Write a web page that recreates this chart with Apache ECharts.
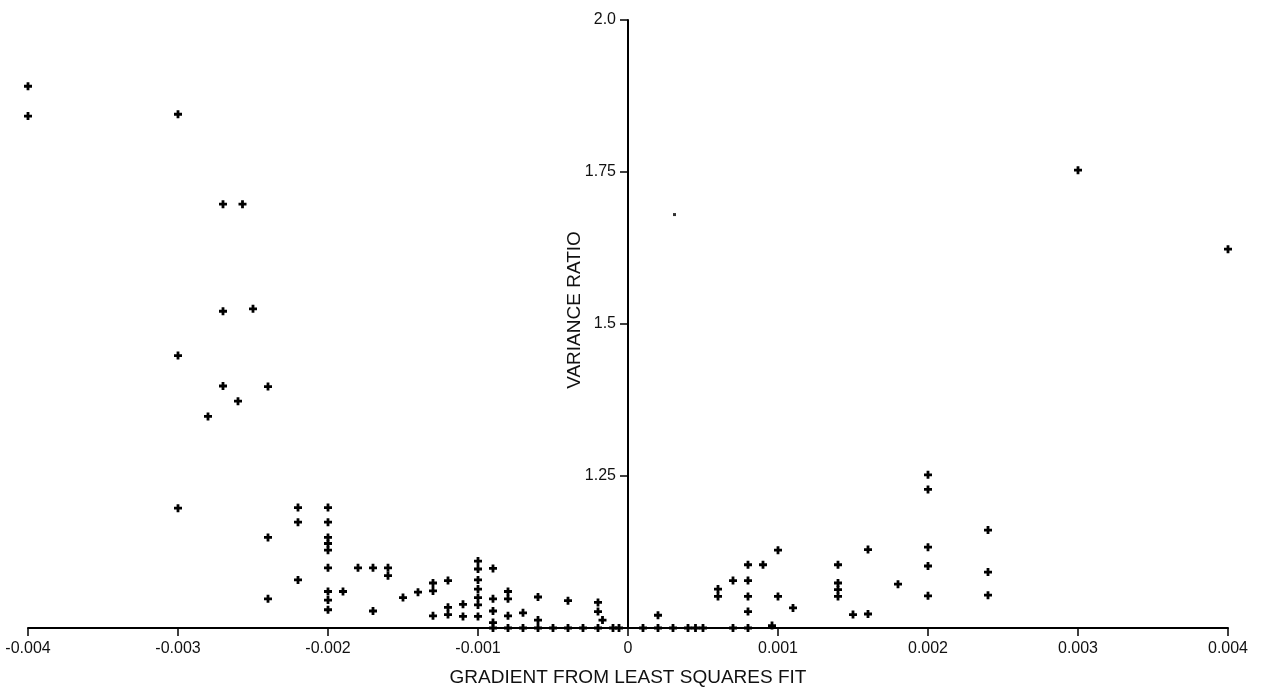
<!DOCTYPE html>
<html>
<head>
<meta charset="utf-8">
<script src="https://cdn.jsdelivr.net/npm/echarts@6/dist/echarts.min.js"></script>
<style>html,body{margin:0;padding:0;background:#fff;}#chart{width:1264px;height:692px;}</style>
</head>
<body>
<div id="chart"></div>
<script>
// Gradient from least squares fit (x) and variance ratio (y)
const gradient = [
  -0.004, -0.004,
  -0.003, -0.003, -0.003,
  -0.0028,
  -0.0027, -0.0027, -0.0027,
  -0.0026, -0.00257, -0.0025,
  -0.0024, -0.0024, -0.0024,
  -0.0022, -0.0022, -0.0022,
  -0.002, -0.002, -0.002, -0.002, -0.002, -0.002, -0.002, -0.002, -0.002,
  -0.0019, -0.0018, -0.0017, -0.0017, -0.0016, -0.0016, -0.0015, -0.0014,
  -0.0013, -0.0013, -0.0013,
  -0.0012, -0.0012, -0.0012,
  -0.0011, -0.0011,
  -0.001, -0.001, -0.001, -0.001, -0.001, -0.001, -0.001,
  -0.0009, -0.0009, -0.0009, -0.0009, -0.0009,
  -0.0008, -0.0008, -0.0008, -0.0008,
  -0.0007, -0.0007,
  -0.0006, -0.0006, -0.0006,
  -0.0005,
  -0.0004, -0.0004,
  -0.0003,
  -0.0002, -0.0002, -0.0002, -0.00017,
  -0.0001, -0.00006,
  0.0001, 0.0002, 0.0002, 0.0003, 0.0004, 0.00045, 0.0005,
  0.0006, 0.0006,
  0.0007, 0.0007,
  0.0008, 0.0008, 0.0008, 0.0008, 0.0008,
  0.0009, 0.00096,
  0.001, 0.001, 0.0011,
  0.0014, 0.0014, 0.0014, 0.0014,
  0.0015, 0.0016, 0.0016, 0.0018,
  0.002, 0.002, 0.002, 0.002, 0.002,
  0.0024, 0.0024, 0.0024,
  0.003, 0.004
];
const varianceRatio = [
  1.891, 1.842,
  1.845, 1.448, 1.197,
  1.348,
  1.697, 1.521, 1.398,
  1.373, 1.697, 1.525,
  1.397, 1.149, 1.048,
  1.198, 1.174, 1.079,
  1.198, 1.174, 1.149, 1.139, 1.128, 1.099, 1.06, 1.046, 1.03,
  1.06, 1.099, 1.099, 1.028, 1.099, 1.086, 1.05, 1.059,
  1.074, 1.061, 1.02,
  1.078, 1.034, 1.022,
  1.039, 1.019,
  1.11, 1.097, 1.079, 1.064, 1.05, 1.038, 1.019,
  1.098, 1.048, 1.028, 1.009, 1.0,
  1.06, 1.048, 1.02, 1.0,
  1.025, 1.0,
  1.051, 1.013, 1.0,
  1.0,
  1.045, 1.0,
  1.0,
  1.042, 1.027, 1.0, 1.013,
  1.0, 1.0,
  1.0, 1.021, 1.0, 1.0, 1.0, 1.0, 1.0,
  1.064, 1.052,
  1.078, 1.0,
  1.104, 1.078, 1.052, 1.027, 1.0,
  1.104, 1.004,
  1.128, 1.052, 1.033,
  1.104, 1.074, 1.063, 1.052,
  1.022, 1.129, 1.023, 1.072,
  1.252, 1.228, 1.133, 1.102, 1.053,
  1.161, 1.092, 1.054,
  1.753, 1.623
];
// isolated tiny speck in the reference
const speckX = [0.00031];
const speckY = [1.68];

const xTickValues = [-0.004, -0.003, -0.002, -0.001, 0, 0.001, 0.002, 0.003, 0.004];
const xTickLabels = ['-0.004', '-0.003', '-0.002', '-0.001', '0', '0.001', '0.002', '0.003', '0.004'];
const yTickValues = [1.0, 1.25, 1.5, 1.75, 2.0];
const yTickLabels = ['', '1.25', '1.5', '1.75', '2.0'];

const xName = 'GRADIENT FROM LEAST SQUARES FIT';
const yName = 'VARIANCE RATIO';

function lookup(vals, labels, v) {
  for (let i = 0; i < vals.length; i++) {
    if (Math.abs(vals[i] - v) < 1e-9) return labels[i];
  }
  return '';
}

const points = gradient.map((g, i) => [g, varianceRatio[i]]);
const speck = speckX.map((g, i) => [g, speckY[i]]);

const FONT = '"Liberation Sans", Arial, Helvetica, sans-serif';
const plus = 'path://M2.6,0H5.4V2.6H8V5.4H5.4V8H2.6V5.4H0V2.6H2.6Z';

const W = 1264, GL = 28, GR = 36;
const gridWidth = W - GL - GR;

const chart = echarts.init(document.getElementById('chart'), null, { renderer: 'canvas' });
chart.setOption({
  animation: false,
  backgroundColor: '#ffffff',
  grid: { left: GL, right: GR, top: 20, bottom: 64, containLabel: false, outerBoundsMode: 'none' },
  xAxis: {
    type: 'value',
    min: -0.004, max: 0.004, interval: 0.001,
    name: xName,
    nameLocation: 'middle',
    nameGap: 40,
    nameMoveOverlap: false,
    nameTextStyle: { color: '#111', fontSize: 19, fontFamily: FONT },
    axisLine: { onZero: false, lineStyle: { color: '#000', width: 2 } },
    axisTick: { show: true, inside: false, length: 8, lineStyle: { color: '#000', width: 1.5 } },
    axisLabel: { color: '#111', fontSize: 16, fontFamily: FONT, margin: 13,
      formatter: v => lookup(xTickValues, xTickLabels, v) },
    splitLine: { show: false }
  },
  yAxis: {
    type: 'value',
    position: 'left',
    offset: -gridWidth / 2,
    min: 1.0, max: 2.0, interval: 0.25,
    name: yName,
    nameLocation: 'middle',
    nameGap: 44,
    nameRotate: 90,
    nameMoveOverlap: false,
    nameTextStyle: { color: '#111', fontSize: 19, fontFamily: FONT, padding: [0, 0, 0, 28] },
    axisLine: { onZero: false, lineStyle: { color: '#000', width: 2 } },
    axisTick: { show: true, length: 8, lineStyle: { color: '#000', width: 1.5 } },
    axisLabel: { color: '#111', fontSize: 16, fontFamily: FONT, margin: 12,
      formatter: v => lookup(yTickValues, yTickLabels, v) },
    splitLine: { show: false }
  },
  series: [
    {
      type: 'scatter',
      name: 'points',
      data: points,
      symbol: plus,
      symbolSize: 8,
      itemStyle: { color: '#000', opacity: 1 },
      z: 5
    },
    {
      type: 'scatter',
      name: 'speck',
      data: speck,
      symbol: 'rect',
      symbolSize: 3,
      itemStyle: { color: '#000' },
      z: 5
    }
  ]
});
</script>
</body>
</html>
